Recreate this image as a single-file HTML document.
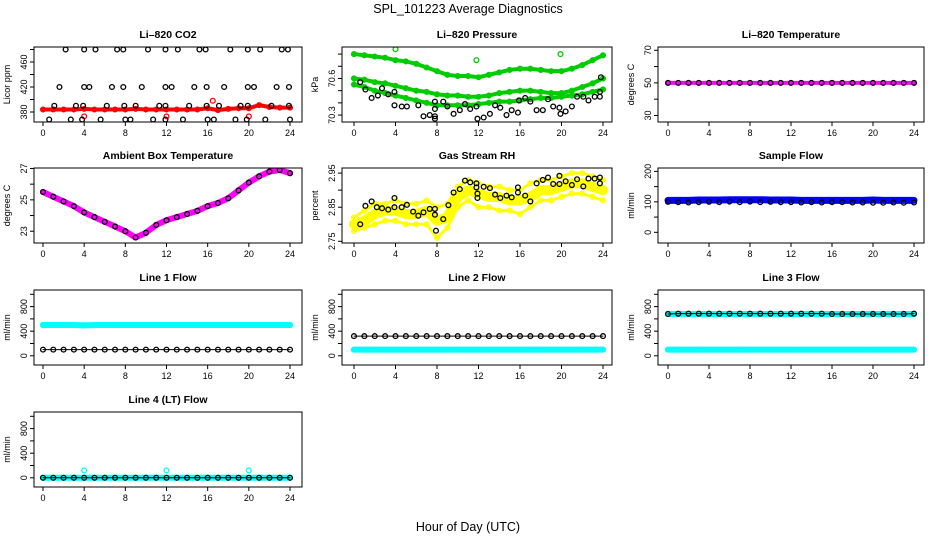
<!DOCTYPE html>
<html><head><meta charset="utf-8"><style>
html,body{margin:0;padding:0;background:#fff}
svg{display:block;font-family:"Liberation Sans",sans-serif}
</style></head><body>
<svg id="c" width="936" height="540" viewBox="0 0 936 540">
<text x="468" y="13" text-anchor="middle" font-size="12.5">SPL_101223  Average Diagnostics</text>
<text x="468" y="531" text-anchor="middle" font-size="12.5">Hour of Day (UTC)</text>
</svg>
<script>
const hrs=[0,1,2,3,4,5,6,7,8,9,10,11,12,13,14,15,16,17,18,19,20,21,22,23,24];
const xTicks=[0,4,8,12,16,20,24];
// CO2
const co2Red=[384,384,384,384,385,384,384,384,384,385,384,384,384,384,384,384,386,383,385,386,386,391,388,387,387];
const co2RedOutX=[4,12,16.5,20];
const co2RedOutY=[373,373,398,373];
const co2BlkX=[2.2,4,5.1,7.2,7.8,10.2,11.9,13.1,15.2,15.8,18.2,19.9,21.1,23.2,23.8,1.6,4,4.5,6.7,7.8,9.6,11.9,12.5,14.7,15.9,17.6,19.9,20.5,22.7,23.9,1.1,3.2,3.9,6.2,7.9,9.0,11.3,11.9,14.2,15.9,17.1,19.2,19.9,22.2,23.9,0.6,2.7,3.8,5.6,8.0,8.5,10.7,11.9,13.6,16.0,16.6,18.7,19.8,21.6,24];
const co2BlkY=[480,480,480,480,480,480,480,480,480,480,480,480,480,480,480,420,420,420,420,420,420,420,420,420,420,420,420,420,420,420,390,390,390,390,390,390,390,390,390,390,390,390,390,390,390,368,368,368,368,368,368,368,368,368,368,368,368,368,368,368];
// Pressure
const prTop=[70.80,70.79,70.78,70.77,70.75,70.74,70.72,70.69,70.66,70.63,70.62,70.62,70.61,70.63,70.65,70.67,70.68,70.68,70.67,70.66,70.66,70.68,70.71,70.75,70.79];
const prMid=[70.60,70.59,70.57,70.56,70.54,70.52,70.50,70.49,70.47,70.46,70.46,70.45,70.45,70.46,70.48,70.49,70.50,70.50,70.49,70.48,70.48,70.50,70.53,70.56,70.60];
const prLow=[70.55,70.53,70.50,70.48,70.46,70.44,70.42,70.40,70.38,70.38,70.38,70.38,70.39,70.40,70.41,70.41,70.42,70.43,70.44,70.44,70.45,70.46,70.47,70.49,70.51];
const prOutX=[4,11.8,19.9];
const prOutY=[70.84,70.75,70.80];
const prBlkX=[0.6,1.1,1.7,2.3,2.7,3.3,3.9,3.9,4.6,5.1,6.2,6.7,7.3,7.8,7.8,7.8,7.8,8.6,9.0,9.6,10.2,10.7,11.2,11.8,11.9,12.5,13.1,13.6,14.1,14.7,15.2,15.8,15.9,16.5,17,17.6,18.2,18.7,19.2,19.8,19.9,20.4,21,21.5,22.1,22.6,23.2,23.7,23.7,23.8];
const prBlkY=[70.57,70.51,70.44,70.46,70.52,70.47,70.49,70.38,70.37,70.37,70.38,70.29,70.30,70.29,70.27,70.35,70.41,70.41,70.37,70.31,70.34,70.39,70.35,70.37,70.27,70.28,70.31,70.38,70.36,70.30,70.34,70.32,70.42,70.44,70.41,70.34,70.34,70.43,70.37,70.36,70.31,70.33,70.37,70.45,70.45,70.42,70.45,70.45,70.49,70.61];
// Li-820 temperature
const tMag=[50,50,50,50,50,50,50,50,50,50,50,50,50,50,50,50,50,50,50,50,50,50,50,50,50];
const tBlk=[50,50,50,50,50,50,50,50,50,50,50,50,50,50,50,50,50,50,50,50,50,50,50,50,50];
// Ambient
const ambMag=[25.5,25.2,24.9,24.6,24.2,23.9,23.6,23.3,23.0,22.6,22.9,23.4,23.7,23.9,24.1,24.3,24.6,24.8,25.1,25.6,26.1,26.5,26.8,26.9,26.7];
const ambBlk=[25.5,25.2,24.9,24.6,24.2,23.9,23.6,23.3,23.0,22.6,22.9,23.4,23.7,23.9,24.1,24.3,24.6,24.8,25.1,25.6,26.1,26.5,26.8,26.9,26.7];
// RH
const rhMid=[2.80,2.81,2.83,2.84,2.84,2.83,2.83,2.84,2.81,2.82,2.88,2.90,2.89,2.88,2.88,2.87,2.87,2.88,2.90,2.90,2.91,2.92,2.92,2.91,2.90];
const rhHi=[2.82,2.84,2.86,2.86,2.87,2.86,2.86,2.87,2.85,2.86,2.91,2.93,2.92,2.91,2.91,2.90,2.90,2.92,2.93,2.93,2.94,2.95,2.95,2.94,2.93];
const rhLo=[2.78,2.79,2.80,2.81,2.81,2.80,2.80,2.80,2.76,2.79,2.85,2.87,2.85,2.85,2.84,2.84,2.83,2.85,2.87,2.87,2.88,2.89,2.89,2.88,2.87];
const rhBlkX=[0.6,1.1,1.7,2.2,2.7,3.3,3.9,3.9,4.6,5.1,5.7,6.2,6.7,7.3,7.8,7.8,7.9,8.6,9.1,9.6,10.2,10.7,11.2,11.8,11.8,11.9,11.9,12.5,13.1,13.6,14.1,14.7,15.2,15.8,15.8,16.5,17,17.6,18.2,18.7,19.2,19.8,19.8,20.4,21,21.5,22.1,22.6,23.2,23.7,23.7];
const rhBlkY=[2.80,2.854,2.867,2.85,2.847,2.843,2.85,2.877,2.85,2.857,2.837,2.825,2.835,2.845,2.845,2.828,2.781,2.815,2.856,2.893,2.903,2.928,2.923,2.92,2.908,2.89,2.877,2.91,2.906,2.887,2.877,2.884,2.879,2.908,2.893,2.884,2.867,2.92,2.93,2.937,2.918,2.942,2.918,2.926,2.915,2.932,2.911,2.934,2.934,2.937,2.92];
// Flows
const sfBlue=[105,105,105,106,106,106,107,107,107,107,106,106,106,105,105,105,105,105,105,105,106,105,105,105,105];
const sfBlk=[100,99,98,99,100,99,101,99,101,99,100,99,99,98,99,98,99,99,98,98,97,97,98,97,98];
const l1Cyan=[500,500,500,500,495,500,500,500,500,500,500,500,500,500,500,500,500,500,500,500,500,500,500,500,500];
const l1Blk=[100,100,100,100,100,100,100,100,100,100,100,100,100,100,100,100,100,100,100,100,100,100,100,100,100];
const l2Cyan=[100,100,100,100,100,100,100,100,100,100,100,100,100,100,100,100,100,100,100,100,100,100,100,100,100];
const l2Blk=[320,320,320,320,320,320,320,320,320,320,320,320,320,320,320,320,320,320,320,320,320,320,320,320,320];
const l3CyanHi=[680,680,680,680,680,680,680,680,680,680,680,680,680,680,680,680,680,680,680,680,680,680,680,680,680];
const l3CyanLo=[100,100,100,100,100,100,100,100,100,100,100,100,100,100,100,100,100,100,100,100,100,100,100,100,100];
const l3Blk=[680,685,685,685,685,685,685,685,685,685,685,685,685,685,685,685,680,680,680,680,680,680,680,680,685];
const l4Cyan=[0,0,0,0,0,0,0,0,0,0,0,0,0,0,0,0,0,0,0,0,0,0,0,0,0];
const l4Blk=[0,0,0,0,0,0,0,0,0,0,0,0,0,0,0,0,0,0,0,0,0,0,0,0,0];
const l4SpikeX=[4,12,20];
const l4SpikeY=[120,120,120];

const NS="http://www.w3.org/2000/svg";
const svg=document.getElementById('c');
function mk(tag,attrs,parent){const e=document.createElementNS(NS,tag);for(const k in attrs)e.setAttribute(k,attrs[k]);(parent||svg).appendChild(e);return e;}
const cols=[{l:34,r:302,x0:43,x24:290},{l:342,r:612,x0:354,x24:603},{l:658,r:924,x0:668,x24:914}];
const rowTop=[47,168,290,412];
function panel(key,col,row,title,ylab,ymin,ymax,ticks,labels,series){
  const c=cols[col],top=rowTop[row],bot=top+75;
  const g=mk('g',{});
  
  
  const sx=h=>c.x0+(c.x24-c.x0)*h/24;
  const sy=v=>bot-(v-ymin)/(ymax-ymin)*(bot-top);
  const clip=mk('clipPath',{id:'cp'+key},g);mk('rect',{x:c.l,y:top,width:c.r-c.l,height:bot-top},clip);
  const plot=mk('g',{'clip-path':'url(#cp'+key+')'},g);
  
  
  series.forEach(s=>{
    const sg=mk('g',{},plot);
    
    
    if(s.band){
      const d=s.x.map((h,i)=>(i?'L':'M')+sx(h)+','+sy(s.y[i])).join('');
      mk('path',{d:d,fill:'none',stroke:s.color,'stroke-width':s.band,'stroke-linecap':'round','stroke-linejoin':'round'},sg);
    }
    s.x.forEach((h,i)=>{
      const pt=mk('circle',{cx:sx(h),cy:sy(s.y[i]),r:2.4,fill:'none',stroke:s.color,'stroke-width':1.3},sg);
      
      
    });
  });
  mk('rect',{x:c.l,y:top,width:c.r-c.l,height:bot-top,fill:'none',stroke:'#000','stroke-width':1},g);
  const t=mk('text',{x:(c.l+c.r)/2,y:top-9,'text-anchor':'middle','font-size':10.5,'font-weight':'bold'},g);t.textContent=title;
  
  
  xTicks.forEach(h=>{
    mk('line',{x1:sx(h),x2:sx(h),y1:bot,y2:bot+4,stroke:'#000'},g);
    const tl=mk('text',{x:sx(h),y:bot+14,'text-anchor':'middle','font-size':9},g);tl.textContent=h;
    
    
  });
  ticks.forEach(v=>{
    mk('line',{x1:c.l-4,x2:c.l,y1:sy(v),y2:sy(v),stroke:'#000'},g);
  });
  labels.forEach(v=>{
    const tl=mk('text',{x:0,y:0,'text-anchor':'middle','font-size':9,transform:'translate('+(c.l-7)+','+sy(v)+') rotate(-90)'},g);tl.textContent=v;
    
    
  });
  const yl=mk('text',{x:0,y:0,'text-anchor':'middle','font-size':9,transform:'translate('+(c.l-24)+','+((top+bot)/2)+') rotate(-90)'},g);yl.textContent=ylab;
  
  
}
panel('co2',0,0,'Li\u2013820 CO2','Licor ppm',364,484,[380,400,420,440,460,480],[380,420,460],[
 {name:'co2-red',x:hrs,y:co2Red,color:'#f00',band:4},
 {name:'co2-red-outliers',x:co2RedOutX,y:co2RedOutY,color:'#f00'},
 {name:'co2-black',x:co2BlkX,y:co2BlkY,color:'#000'}]);
panel('pressure',1,0,'Li\u2013820 Pressure','kPa',70.243,70.858,[70.3,70.4,70.5,70.6,70.7,70.8],['70.3','70.6'],[
 {name:'pressure-top',x:hrs,y:prTop,color:'#0c0',band:4},
 {name:'pressure-mid',x:hrs,y:prMid,color:'#0c0',band:4},
 {name:'pressure-low',x:hrs,y:prLow,color:'#0c0',band:4},
 {name:'pressure-outliers',x:prOutX,y:prOutY,color:'#0c0'},
 {name:'pressure-black',x:prBlkX,y:prBlkY,color:'#000'}]);
panel('temperature',2,0,'Li\u2013820 Temperature','degrees C',26,72,[30,40,50,60,70],[30,50,70],[
 {name:'temp-magenta',x:hrs,y:tMag,color:'#f0f',band:4},
 {name:'temp-black',x:hrs,y:tBlk,color:'#000'}]);
panel('ambient',0,1,'Ambient Box Temperature','degrees C',22.25,27.03,[23,24,25,26,27],[23,25,27],[
 {name:'ambient-magenta',x:hrs,y:ambMag,color:'#f0f',band:6},
 {name:'ambient-black',x:hrs,y:ambBlk,color:'#000'}]);
panel('rh',1,1,'Gas Stream RH','percent',2.745,2.965,[2.75,2.80,2.85,2.90,2.95],['2.75','2.85','2.95'],[
 {name:'rh-yellow-mid',x:hrs,y:rhMid,color:'#ff0',band:10},
 {name:'rh-yellow-hi',x:hrs,y:rhHi,color:'#ff0',band:3},
 {name:'rh-yellow-lo',x:hrs,y:rhLo,color:'#ff0',band:3},
 {name:'rh-black',x:rhBlkX,y:rhBlkY,color:'#000'}]);
panel('sample-flow',2,1,'Sample Flow','ml/min',-35,211,[0,50,100,150,200],[0,100,200],[
 {name:'sample-blue',x:hrs,y:sfBlue,color:'#00f',band:7},
 {name:'sample-black',x:hrs,y:sfBlk,color:'#000'}]);
panel('line1',0,2,'Line 1 Flow','ml/min',-150,1070,[0,200,400,600,800,1000],[0,400,800],[
 {name:'line1-cyan',x:hrs,y:l1Cyan,color:'#0ff',band:6},
 {name:'line1-black',x:hrs,y:l1Blk,color:'#000',band:1}]);
panel('line2',1,2,'Line 2 Flow','ml/min',-150,1070,[0,200,400,600,800,1000],[0,400,800],[
 {name:'line2-cyan',x:hrs,y:l2Cyan,color:'#0ff',band:6},
 {name:'line2-black',x:hrs,y:l2Blk,color:'#000',band:1}]);
panel('line3',2,2,'Line 3 Flow','ml/min',-150,1070,[0,200,400,600,800,1000],[0,400,800],[
 {name:'line3-cyan-high',x:hrs,y:l3CyanHi,color:'#0ff',band:6},
 {name:'line3-cyan-low',x:hrs,y:l3CyanLo,color:'#0ff',band:6},
 {name:'line3-black',x:hrs,y:l3Blk,color:'#000',band:1}]);
panel('line4',0,3,'Line 4 (LT) Flow','ml/min',-150,1070,[0,200,400,600,800,1000],[0,400,800],[
 {name:'line4-cyan',x:hrs,y:l4Cyan,color:'#0ff',band:6},
 {name:'line4-cyan-spikes',x:l4SpikeX,y:l4SpikeY,color:'#0ff'},
 {name:'line4-black',x:hrs,y:l4Blk,color:'#000',band:1}]);
</script>
</body></html>
